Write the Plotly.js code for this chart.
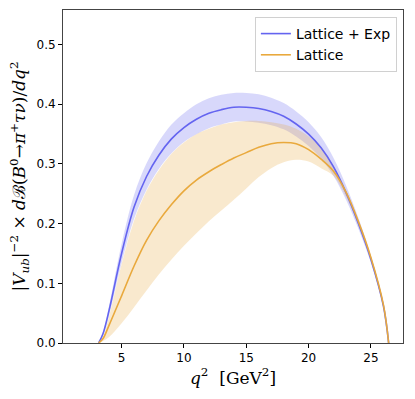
<!DOCTYPE html>
<html>
<head>
<meta charset="utf-8">
<script src="https://cdn.plot.ly/plotly-3.0.1.min.js"></script>
<style>html,body{margin:0;padding:0;background:#fff;}#plot{width:415px;height:399px;}</style>
</head>
<body>
<div id="plot"></div>
<script>
// q^2 grid [GeV^2]
var q2 = [3.16, 3.5, 4, 5, 6, 7, 8, 9, 10, 11, 12, 13, 14, 15, 16, 17, 18, 19, 20, 21, 22, 23, 24, 25, 26, 26.42];

// Lattice + Exp (central, upper, lower)
var expCentral = [0, 0.015, 0.055, 0.150, 0.228, 0.279, 0.315, 0.342, 0.361, 0.375, 0.385, 0.391, 0.395, 0.395, 0.393, 0.388, 0.380, 0.367, 0.350, 0.327, 0.295, 0.252, 0.200, 0.140, 0.062, 0];
var expUpper   = [0, 0.018, 0.063, 0.166, 0.248, 0.301, 0.338, 0.366, 0.385, 0.400, 0.410, 0.416, 0.419, 0.419, 0.417, 0.411, 0.402, 0.388, 0.370, 0.345, 0.310, 0.264, 0.209, 0.146, 0.065, 0];
var expLower   = [0, 0.012, 0.047, 0.134, 0.208, 0.257, 0.292, 0.318, 0.337, 0.350, 0.360, 0.366, 0.371, 0.371, 0.369, 0.365, 0.358, 0.346, 0.330, 0.309, 0.280, 0.240, 0.191, 0.134, 0.059, 0];

// Lattice only (central, upper, lower)
var latCentral = [0, 0.007, 0.030, 0.079, 0.129, 0.172, 0.205, 0.232, 0.255, 0.273, 0.287, 0.299, 0.310, 0.319, 0.328, 0.334, 0.336, 0.334, 0.324, 0.308, 0.288, 0.253, 0.203, 0.143, 0.064, 0];
var latUpper   = [0, 0.010, 0.045, 0.132, 0.205, 0.255, 0.290, 0.317, 0.336, 0.350, 0.359, 0.366, 0.370, 0.372, 0.372, 0.370, 0.366, 0.359, 0.346, 0.327, 0.296, 0.256, 0.206, 0.145, 0.065, 0];
var latLower   = [0, 0.003, 0.010, 0.033, 0.060, 0.088, 0.115, 0.140, 0.163, 0.184, 0.204, 0.222, 0.240, 0.259, 0.278, 0.293, 0.303, 0.307, 0.304, 0.293, 0.280, 0.245, 0.197, 0.138, 0.061, 0];

var legendNames = ["Lattice + Exp", "Lattice"];

var blue = "#6464f0", blueFill = "rgba(100,100,240,0.25)";
var orange = "#e9a93d", orangeFill = "rgba(233,169,61,0.25)";

function ln(w, c) { return {width: w, color: c, shape: "spline", smoothing: 1}; }

var traces = [
  {x: q2, y: expLower, mode: "lines", line: ln(0, blue), showlegend: false, hoverinfo: "skip"},
  {x: q2, y: expUpper, mode: "lines", line: ln(0, blue), fill: "tonexty", fillcolor: blueFill, showlegend: false, hoverinfo: "skip"},
  {x: q2, y: latLower, mode: "lines", line: ln(0, orange), showlegend: false, hoverinfo: "skip"},
  {x: q2, y: latUpper, mode: "lines", line: ln(0, orange), fill: "tonexty", fillcolor: orangeFill, showlegend: false, hoverinfo: "skip"},
  {x: q2, y: expCentral, mode: "lines", line: ln(1.6, blue), name: legendNames[0]},
  {x: q2, y: latCentral, mode: "lines", line: ln(1.6, orange), name: legendNames[1]}
];

var layout = {
  width: 415, height: 399,
  margin: {l: 63, r: 12, t: 10, b: 56},
  paper_bgcolor: "#fff", plot_bgcolor: "#fff",
  font: {family: "DejaVu Sans", size: 12, color: "#000"},
  xaxis: {
    range: [0.3, 27.57], tickvals: [5, 10, 15, 20, 25], ticks: "outside", ticklen: 4, tickwidth: 1, tickcolor: "#000",
    showline: true, mirror: true, linecolor: "#444", linewidth: 1, showgrid: false, zeroline: false,
    tickfont: {family: "DejaVu Sans", size: 12, color: "#000"},
    title: {text: "<i>q</i><sup>2</sup>  [GeV<sup>2</sup>]", font: {family: "DejaVu Serif", size: 17, color: "#000"}, standoff: 6}
  },
  yaxis: {
    range: [0, 0.558], tickvals: [0, 0.1, 0.2, 0.3, 0.4, 0.5], tickformat: ".1f", ticks: "outside", ticklen: 4, tickwidth: 1, tickcolor: "#000",
    showline: true, mirror: true, linecolor: "#444", linewidth: 1, showgrid: false, zeroline: false,
    tickfont: {family: "DejaVu Sans", size: 12, color: "#000"},
    title: {text: "|<i>V</i><sub><i>ub</i></sub>|<sup>−2</sup> × <i>d</i>ℬ(<i>B</i><sup>0</sup>→<i>π</i><sup>+</sup><i>τν</i>)/<i>dq</i><sup>2</sup>", font: {family: "DejaVu Serif", size: 17, color: "#000"}, standoff: 6}
  },
  legend: {
    x: 0.982, y: 0.979, xanchor: "right", yanchor: "top", traceorder: "normal",
    bgcolor: "rgba(255,255,255,0.8)", bordercolor: "#d0d0d0", borderwidth: 1,
    font: {family: "DejaVu Sans", size: 14, color: "#000"}, tracegroupgap: 0
  },
  showlegend: true
};

Plotly.newPlot("plot", traces, layout, {displayModeBar: false, staticPlot: true});
</script>
</body>
</html>
